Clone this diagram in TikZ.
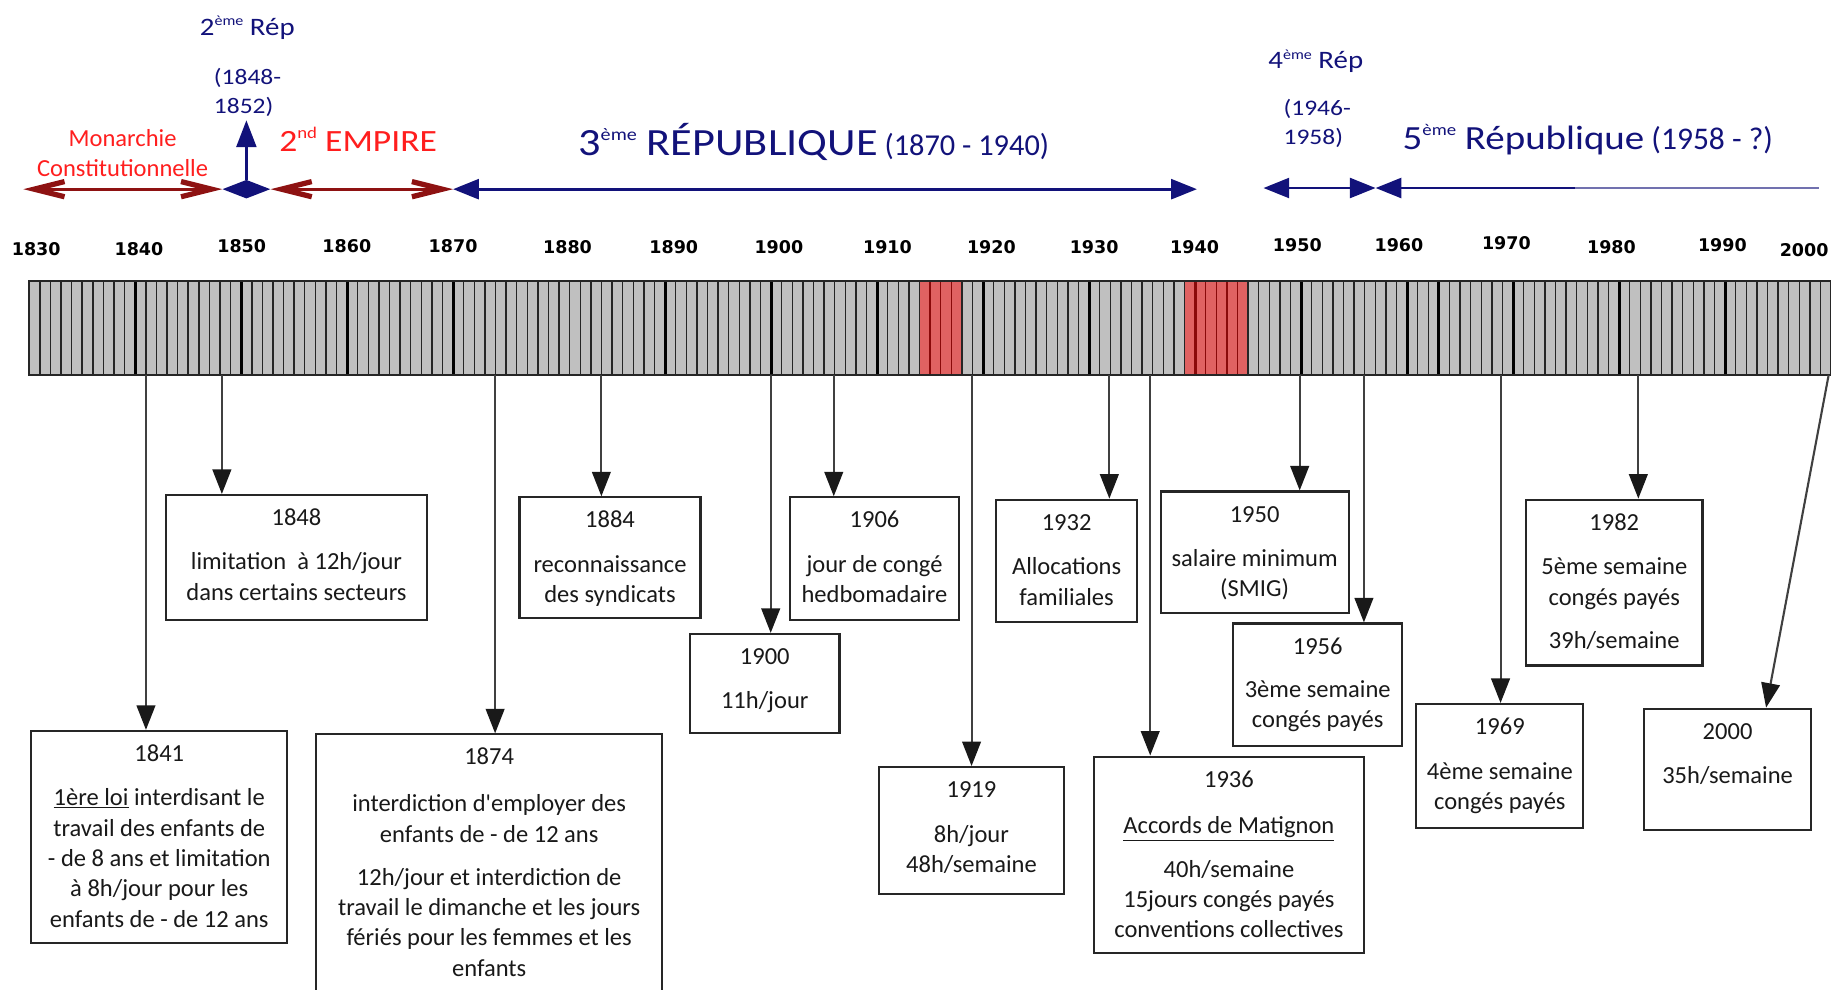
\documentclass[tikz,border=0pt]{standalone}
\usepackage{fontspec}
\setmainfont{Carlito}
\newfontfamily\hd[FakeStretch=1.15]{Carlito}
\newfontfamily\yrfont{DejaVu Sans}
\usetikzlibrary{arrows.meta,shapes.geometric}
\definecolor{repblue}{HTML}{12127A}
\definecolor{monred}{HTML}{FF1E1E}
\definecolor{empmaroon}{HTML}{8E1212}
\definecolor{barfill}{HTML}{C0C0C0}
\definecolor{warfill}{HTML}{E06262}
\definecolor{warline}{HTML}{8A0A0A}
\newcommand{\evt}[3]{\parbox[c][#2pt][t]{#1pt}{\centering\fontsize{21}{26}\selectfont\vspace*{8pt}\strut #3\par}}
\newcommand{\sups}[3]{\raisebox{#1pt}{\fontsize{#2}{#2}\selectfont #3}}
\begin{document}
\begin{tikzpicture}[x=1pt,y=-1pt,
  yearlab/.style={font=\yrfont\bfseries\fontsize{15}{18}\selectfont, inner sep=0pt},
  evbox/.style={draw=black!85, line width=1.8pt, fill=white, inner sep=0pt, anchor=north west, text=black!90},
  conn/.style={draw=black!75, line width=1.8pt, -{Triangle[length=21pt,width=16pt,color=black!90]}},
  yrline/.style={draw=black!85, line width=1.25pt},
  decline/.style={draw=black, line width=2.6pt},
  warl/.style={draw=warline, line width=1.25pt},
  navline/.style={draw=repblue, line width=2.4pt},
  marline/.style={draw=empmaroon, line width=2.4pt,
     {Straight Barb[length=26pt,width=13pt,line width=4.5pt]}-{Straight Barb[length=26pt,width=13pt,line width=4.5pt]}},
  navtri/.tip={Triangle[length=22pt,width=17pt]},
  hdtext/.style={inner sep=0pt, anchor=base west}
]
\useasboundingbox (0,0) rectangle (1568,847);

% ---------- timeline bar ----------
\fill[barfill] (25,241) rectangle (1568,321);
\fill[warfill] (787.4,241) rectangle (823.7,321);
\fill[warfill] (1014.3,241) rectangle (1068.8,321);
\foreach \yy in {1831,...,1999}{\draw[yrline] ({25+(\yy-1830)*9.0765},241) -- ++(0,80);}
\foreach \yy in {1915,1916,1917,1940,1941,1942,1943,1944}{\draw[warl] ({25+(\yy-1830)*9.0765},241) -- ++(0,80);}
\foreach \yy in {1840,1850,1860,1870,1890,1900,1910,1920,1930,1950,1960,1963,1970,1980,1990}{\draw[decline] ({25+(\yy-1830)*9.0765},241) -- ++(0,80);}
\draw[draw=warline, line width=2.6pt] ({25+110*9.0765},241) -- ++(0,80);
\draw[black!85, line width=1.6pt] (25,241) rectangle (1568,321);

% ---------- year labels ----------
\foreach \yy/\xx/\ypos in {1830/31/213, 1840/119/213, 1850/207/211, 1860/297/211, 1870/388/211, 1880/486/212, 1890/577/212, 1900/667/212, 1910/760/212, 1920/849/212, 1930/937/212, 1940/1023/212, 1950/1111/210, 1960/1198/210, 1970/1290/208, 1980/1380/212, 1990/1475/210, 2000/1545/214}
  {\node[yearlab] (y\yy) at (\xx,\ypos) {\yy};}

% ---------- regimes ----------
\node[font=\fontsize{21}{26}\selectfont, text=monred, align=center, inner sep=0pt] (monarchie) at (105,131) {Monarchie\\Constitutionnelle};
\node[hdtext, font=\hd\fontsize{26.5}{30}\selectfont, text=monred] (emp2) at (239,130) {2\sups{11}{14}{nd} EMPIRE};
\node[hdtext, font=\hd\fontsize{21.5}{24}\selectfont, text=repblue] (rep2) at (171,30) {2\sups{8}{12}{ème} Rép};
\node[hdtext, font=\hd\fontsize{19}{24}\selectfont, text=repblue] (rep2a) at (183,72) {(1848-};
\node[hdtext, font=\hd\fontsize{19}{24}\selectfont, text=repblue] (rep2b) at (183,97) {1852)};
\node[hdtext, text=repblue] (rep3) at (495,133.5) {{\hd\fontsize{33}{36}\selectfont 3\sups{13}{15}{ème} RÉPUBLIQUE}{\fontsize{26}{30}\selectfont\ (1870 - 1940)}};
\node[hdtext, font=\hd\fontsize{21.5}{24}\selectfont, text=repblue] (rep4) at (1086,59) {4\sups{8}{12}{ème} Rép};
\node[hdtext, font=\hd\fontsize{19}{24}\selectfont, text=repblue] (rep4a) at (1099,98.5) {(1946-};
\node[hdtext, font=\hd\fontsize{19}{24}\selectfont, text=repblue] (rep4b) at (1099,124) {1958)};
\node[hdtext, text=repblue] (rep5) at (1201,128) {{\hd\fontsize{29}{32}\selectfont 5\sups{12}{14}{ème} République}{\fontsize{27}{30}\selectfont\ (1958 - ?)}};

\coordinate (monL) at (20,162);
\coordinate (c1870) at (388,162);
\coordinate (c1940) at (1025,162);
\coordinate (c1946) at (1082,161);
\coordinate (c1958) at (1178,161);
\coordinate (c1975) at (1349,161);
\coordinate (c2000) at (1558,161);
\coordinate (rep2tip) at (211,103);
\node[diamond, fill=repblue, minimum width=41pt, minimum height=16pt, inner sep=0pt, aspect=2.5] (rep2dia) at (211,162) {};
\draw[marline] (monL) -- (rep2dia.west);
\draw[marline] (rep2dia.east) -- (c1870);
\draw[navline, -{Triangle[length=23pt,width=17pt]}] (rep2dia.north) -- (rep2tip);
\draw[navline, navtri-navtri] (c1870) -- (c1940);
\draw[navline, navtri-navtri] (c1946) -- (c1958);
\draw[navline, navtri-] (c1958) -- (c1975);
\draw[draw=repblue!60, line width=2.2pt] (c1975) -- (c2000);

% ---------- event boxes ----------
\node[evbox] (b1841) at (26,625) {\evt{219}{182}{1841\\[12pt]\underline{1ère loi} interdisant le\\travail des enfants de\\- de 8 ans et limitation\\à 8h/jour pour les\\enfants de - de 12 ans}};
\node[evbox] (b1848) at (141,423) {\evt{224}{107}{1848\\[12pt]limitation\ \ à 12h/jour\\dans certains secteurs}};
\node[evbox] (b1874) at (270,628) {\evt{296}{240}{1874\\[14pt]interdiction d\textquotesingle employer des\\enfants de - de 12 ans\\[11pt]12h/jour et interdiction de\\travail le dimanche et les jours\\fériés pour les femmes et les\\enfants}};
\node[evbox] (b1884) at (444,425) {\evt{155}{103}{1884\\[12pt]reconnaissance\\des syndicats}};
\node[evbox] (b1900) at (590,542) {\evt{128}{85}{1900\\[12pt]11h/jour}};
\node[evbox] (b1906) at (676,425) {\evt{144}{105}{1906\\[12pt]jour de congé\\hedbomadaire}};
\node[evbox] (b1919) at (752,656) {\evt{158}{109}{1919\\[12pt]8h/jour\\48h/semaine}};
\node[evbox] (b1932) at (852,427) {\evt{121}{105}{1932\\[12pt]Allocations\\familiales}};
\node[evbox] (b1936) at (936,647) {\evt{231}{168}{1936\\[14pt]\underline{Accords de Matignon}\\[11pt]40h/semaine\\15jours congés payés\\conventions collectives}};
\node[evbox] (b1950) at (993,420) {\evt{161}{104}{1950\\[12pt]salaire minimum\\(SMIG)}};
\node[evbox] (b1956) at (1055,533) {\evt{145}{105}{1956\\[11pt]3ème semaine\\congés payés}};
\node[evbox] (b1969) at (1212,602) {\evt{143}{106}{1969\\[12pt]4ème semaine\\congés payés}};
\node[evbox] (b1982) at (1306,427) {\evt{151}{142}{1982\\[12pt]5ème semaine\\congés payés\\[11pt]39h/semaine}};
\node[evbox] (b2000) at (1407,606) {\evt{143}{104}{2000\\[12pt]35h/semaine}};

% ---------- connectors ----------
\foreach \n/\xx in {1841/125, 1848/190, 1874/424, 1884/515, 1900/660, 1906/714, 1919/832, 1932/950, 1936/985, 1950/1113, 1956/1168, 1969/1285, 1982/1403}
  {\coordinate (t\n) at (\xx,321); \draw[conn] (t\n) -- (t\n |- b\n.north);}
\coordinate (t2000) at (1566,321);
\draw[conn] (t2000) -- ([xshift=33pt]b2000.north);
\end{tikzpicture}
\end{document}
